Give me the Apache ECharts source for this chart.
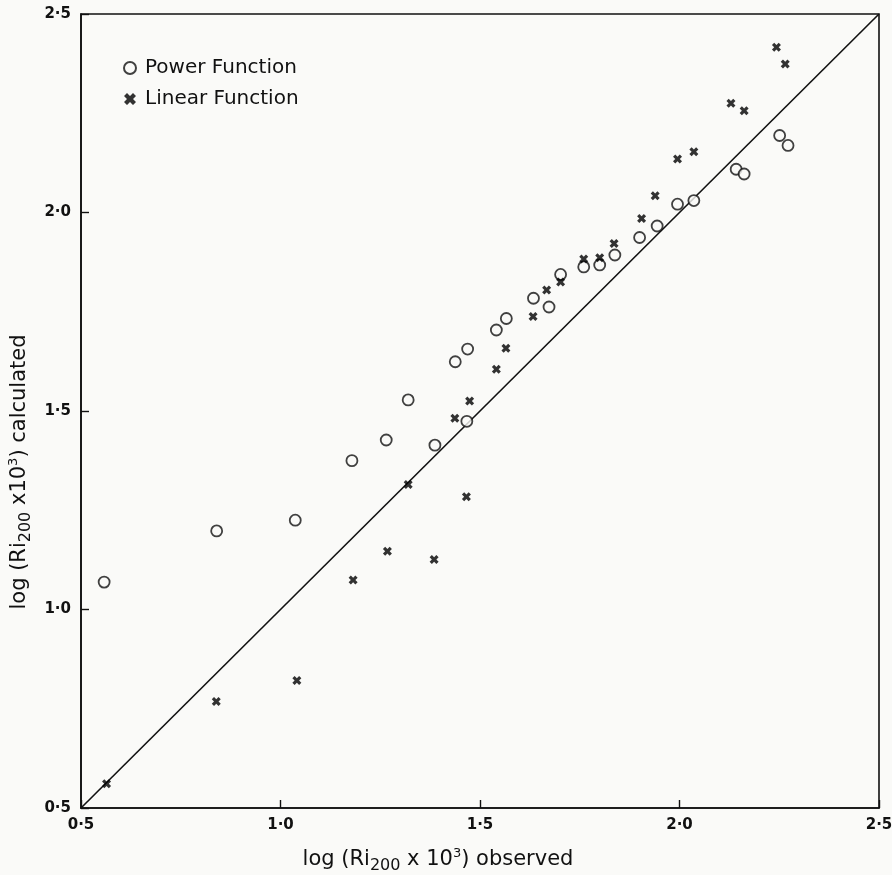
<!DOCTYPE html>
<html>
<head>
<meta charset="utf-8">
<script src="https://cdn.jsdelivr.net/npm/echarts@6/dist/echarts.min.js"></script>
<style>
  html, body { margin: 0; padding: 0; background: #fafaf8; }
  #chart { width: 892px; height: 875px; }
</style>
</head>
<body>
<div id="chart"></div>
<script>
const powerObs  = [0.558, 0.840, 1.037, 1.179, 1.265, 1.320, 1.387, 1.438, 1.469, 1.467, 1.541, 1.566, 1.634, 1.673, 1.702, 1.760, 1.800, 1.838, 1.900, 1.944, 1.995, 2.036, 2.142, 2.162, 2.251, 2.272]
const powerCalc = [1.069, 1.198, 1.225, 1.375, 1.427, 1.528, 1.414, 1.624, 1.656, 1.474, 1.704, 1.733, 1.784, 1.762, 1.844, 1.863, 1.868, 1.893, 1.937, 1.966, 2.021, 2.030, 2.109, 2.097, 2.194, 2.169]
const linearObs  = [0.564, 0.839, 1.041, 1.182, 1.268, 1.320, 1.385, 1.437, 1.466, 1.474, 1.541, 1.565, 1.633, 1.667, 1.702, 1.760, 1.800, 1.836, 1.905, 1.939, 1.995, 2.036, 2.129, 2.162, 2.243, 2.265]
const linearCalc = [0.561, 0.768, 0.821, 1.074, 1.147, 1.315, 1.126, 1.482, 1.284, 1.525, 1.605, 1.658, 1.738, 1.805, 1.825, 1.883, 1.886, 1.922, 1.985, 2.042, 2.135, 2.153, 2.275, 2.256, 2.416, 2.374]
const identityLine = [[0.5, 0.5], [2.5, 2.5]]
const tickLabels = { 0.5: '0·5', 1: '1·0', 1.5: '1·5', 2: '2·0', 2.5: '2·5' }

const zip = (a, b) => a.map((v, i) => [v, b[i]])
// thick "x" mark, filled
const crossPath = 'path://M0,2.5L2.5,0L5,2.5L7.5,0L10,2.5L7.5,5L10,7.5L7.5,10L5,7.5L2.5,10L0,7.5L2.5,5Z'
const font = 'DejaVu Sans'
const ink = '#111'

const titleRich = {
    a: { fontFamily: font, fontSize: 21, color: ink },
    sub: { fontFamily: font, fontSize: 16, color: ink, padding: [12, 0, 0, 0] },
    sup: { fontFamily: font, fontSize: 13, color: ink, padding: [0, 0, 12, 0] }
}

const myChart = echarts.init(document.getElementById('chart'))
const options = {
    backgroundColor: '#fafaf8',
    animation: false,
    textStyle: { fontFamily: font, color: ink },
    legend: {
        orient: 'vertical',
        left: 118,
        top: 53,
        itemGap: 11,
        itemWidth: 12,
        itemHeight: 12,
        textStyle: { fontFamily: font, fontSize: 20, color: ink, padding: [0, 0, 0, 4] },
        data: ['Power Function', 'Linear Function']
    },
    grid: {
        left: 81, right: 13, top: 14, bottom: 67,
        outerBoundsMode: 'none',
        show: true, borderColor: ink, borderWidth: 1.6, backgroundColor: 'transparent'
    },
    xAxis: {
        type: 'value', min: 0.5, max: 2.5, interval: 0.5,
        name: '{a|log (Ri}{sub|200}{a| x 10}{sup|3}{a|) observed}',
        nameLocation: 'middle', nameGap: 38,
        nameTextStyle: { rich: titleRich, padding: [0, 84, 0, 0] },
        axisLine: { lineStyle: { color: ink, width: 1.6 } },
        axisTick: { inside: true, length: 8, lineStyle: { color: ink, width: 1.4 } },
        axisLabel: { formatter: v => tickLabels[v], fontFamily: font, fontSize: 15, fontWeight: 'bold', color: ink, margin: 10 },
        splitLine: { show: false }
    },
    yAxis: {
        type: 'value', min: 0.5, max: 2.5, interval: 0.5,
        name: '{a|log (Ri}{sub|200}{a| x10}{sup|3}{a|) calculated}',
        nameLocation: 'middle', nameGap: 40, nameRotate: 90,
        nameTextStyle: { rich: titleRich, padding: [0, 122, 0, 0] },
        axisLine: { lineStyle: { color: ink, width: 1.6 } },
        axisTick: { inside: true, length: 8, lineStyle: { color: ink, width: 1.4 } },
        axisLabel: { formatter: v => tickLabels[v], fontFamily: font, fontSize: 15, fontWeight: 'bold', color: ink, margin: 10 },
        splitLine: { show: false }
    },
    series: [
        {
            type: 'line',
            data: identityLine,
            showSymbol: false,
            silent: true,
            lineStyle: { color: ink, width: 1.6 },
            z: 1
        },
        {
            name: 'Power Function',
            type: 'scatter',
            data: zip(powerObs, powerCalc),
            symbol: 'circle',
            symbolSize: 11,
            itemStyle: { color: '#fafaf8', borderColor: ink, borderWidth: 1.8 },
            z: 3
        },
        {
            name: 'Linear Function',
            type: 'scatter',
            data: zip(linearObs, linearCalc),
            symbol: crossPath,
            symbolSize: 9,
            itemStyle: { color: '#000' },
            z: 4
        }
    ]
}
myChart.setOption(options)
</script>
</body>
</html>
